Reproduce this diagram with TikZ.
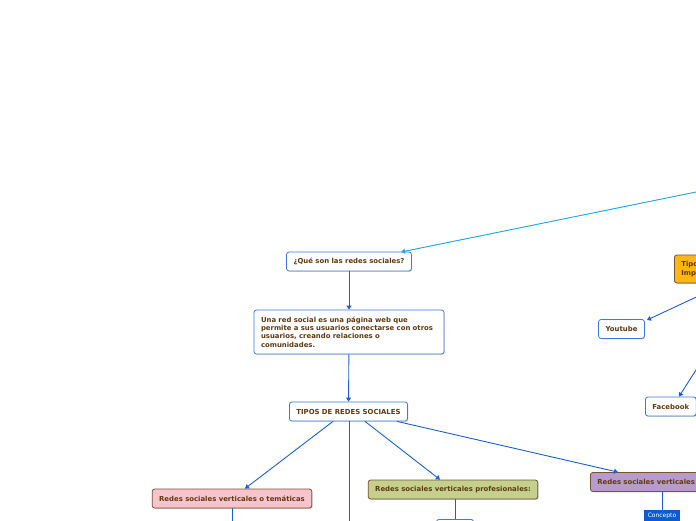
\documentclass[tikz,border=0pt]{standalone}
\usepackage{fontspec}
\setmainfont{DejaVu Sans}
\usetikzlibrary{arrows.meta, positioning, shadows}
\definecolor{BoxBlue}{HTML}{3A7BDC}
\definecolor{LinkBlue}{HTML}{1A5FD3}
\definecolor{RootCyan}{HTML}{1EA6E6}
\definecolor{TextBrown}{HTML}{5E3A10}
\definecolor{EdgeBrown}{HTML}{7A5230}
\definecolor{PinkFill}{HTML}{F8C4CC}
\definecolor{GreenFill}{HTML}{C4D08C}
\definecolor{PurpleFill}{HTML}{B79BCB}
\definecolor{OrangeFill}{HTML}{FDB614}
\definecolor{TagBlue}{HTML}{0B5BD2}

\begin{document}
\begin{tikzpicture}[
    x=1pt, y=-1pt,
    font=\fontsize{6.9}{8.3}\selectfont\bfseries, text=TextBrown,
    idea/.style={draw=BoxBlue, fill=white, rounded corners=2.5pt, line width=0.8pt,
                 inner xsep=7pt, inner ysep=3pt, minimum height=19pt,
                 drop shadow={shadow xshift=0.8pt, shadow yshift=-0.8pt, opacity=0.3}},
    topic/.style={draw=EdgeBrown, rounded corners=2.5pt, line width=0.8pt,
                  inner xsep=7pt, inner ysep=3pt, minimum height=19pt,
                  drop shadow={shadow xshift=0.9pt, shadow yshift=-0.9pt, opacity=0.4}},
    tag/.style={fill=TagBlue, text=white, font=\fontsize{6}{7}\selectfont,
                inner xsep=4pt, inner ysep=1.5pt, minimum height=12pt},
    link/.style={-{Triangle[length=4pt, width=5pt]}, draw=LinkBlue, line width=0.9pt},
    stem/.style={draw=LinkBlue, line width=1pt},
  ]
    \useasboundingbox (0,0) rectangle (696,520);
    % ---- columna central ----
    \node[idea] (que)   at (349,261.5) {¿Qué son las redes sociales?};
    \node[idea, text width=176pt, align=left, minimum height=44pt] (def) at (349,332)
      {Una red social es una página web que\\permite a sus usuarios conectarse con otros\\usuarios, creando relaciones o\\comunidades.};
    \node[idea] (tipos) at (348.5,411.5) {TIPOS DE REDES SOCIALES};
    % ---- ramas de tipos ----
    \node[topic, fill=PinkFill]   (tema) at (232,498.5) {Redes sociales verticales o temáticas};
    \node[topic, fill=GreenFill]  (prof) at (453,489.5) {Redes sociales verticales profesionales:};
    \node[topic, fill=PurpleFill, anchor=west, text width=140pt, align=left] (vert) at (590,482)
      {Redes sociales verticales};
    \node[tag, anchor=north] (conc) at (662,510) {Concepto};
    \node[idea, anchor=north, minimum width=37pt, minimum height=12pt] (profsub) at (455,519) {};
    % ---- derecha ----
    \node[topic, fill=OrangeFill, anchor=west, align=left, minimum height=28pt] (imp) at (674,269)
      {Tipos de redes sociales\\Importantes};
    \node[idea] (yt) at (621.5,329) {Youtube};
    \node[idea, anchor=west] (fb) at (645,406.5) {Facebook};
    % ---- extremos libres ----
    \coordinate (raiz) at (760,179);
    \coordinate (ytsrc) at (720,286);
    \coordinate (fbsrc) at (710,348);
    \coordinate (temadown) at (232,530);
    \coordinate (centro) at (349,530);
    % ---- conexiones ----
    \draw[link, draw=RootCyan, fill=RootCyan] (raiz) -- (401,252);
    \draw[link] (que) -- (def);
    \draw[link] (def) -- (tipos);
    \draw[link] (tipos.south -| 333,0) -- (tema.north -| 245,0);
    \draw[stem] (tipos.south -| 349,0) -- (centro);
    \draw[link] (tipos.south -| 365,0) -- (prof.north -| 440,0);
    \draw[link] (tipos.south -| 397,0) -- (vert.north -| 618,0);
    \draw[stem] (tema.south) -- (temadown);
    \draw[stem] (prof.south -| 455,0) -- (profsub.north);
    \draw[stem] (vert.south -| 662,0) -- (conc.north);
    \draw[link] (ytsrc) -- (647,320);
    \draw[link] (fbsrc) -- (fb.north -| 679,0);
  \end{tikzpicture}
\end{document}
